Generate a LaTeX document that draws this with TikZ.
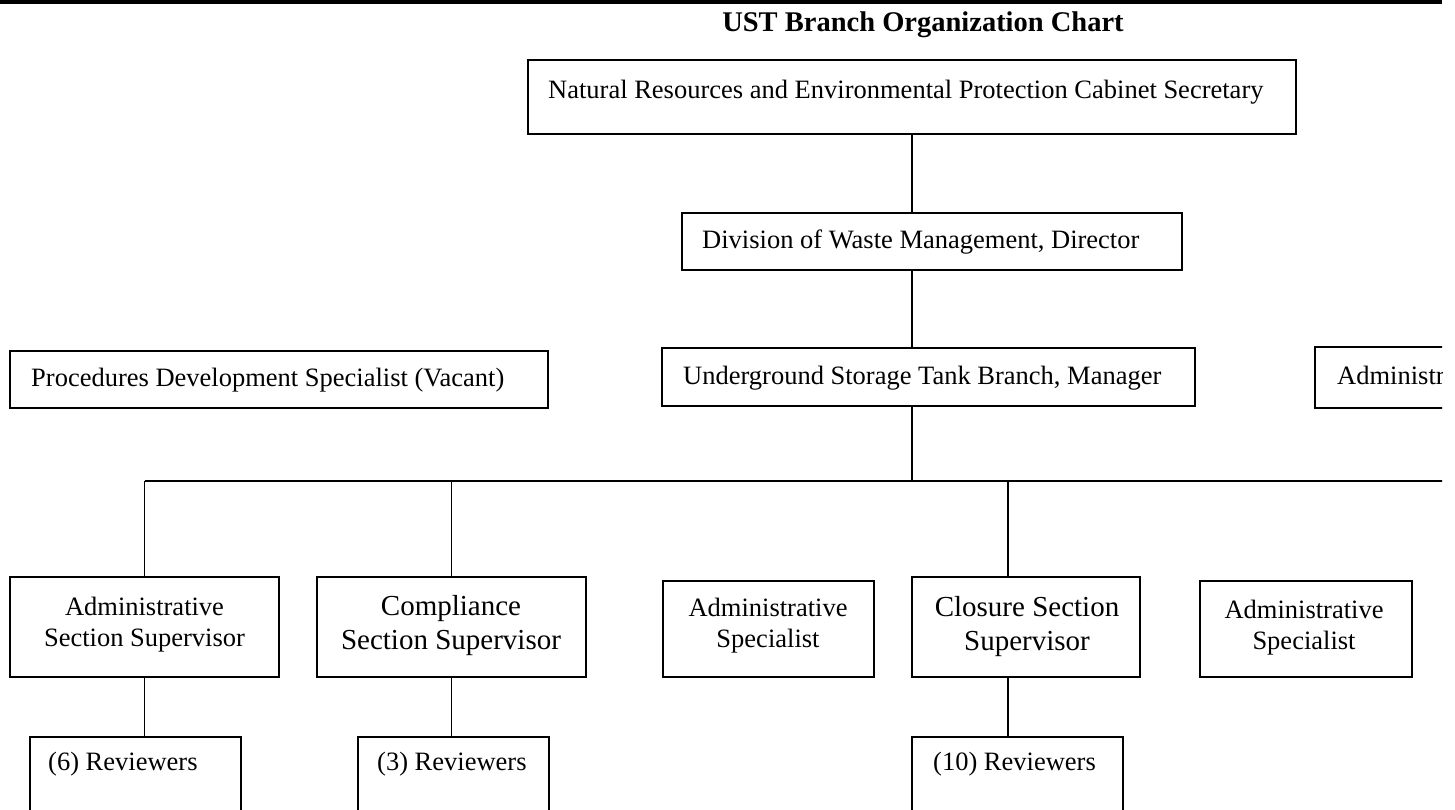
\documentclass[tikz,border=0pt]{standalone}
\usepackage{fontspec}
\setmainfont{Liberation Serif}
\begin{document}
\begin{tikzpicture}[x=1pt,y=-1pt,
  box/.style={draw,line width=1.6pt,inner sep=0pt},
  conn/.style={line width=1.6pt},
  txt/.style={inner sep=0pt,font=\fontsize{26.5}{31}\selectfont},
  bigtxt/.style={inner sep=0pt,align=center,font=\fontsize{29}{34}\selectfont},
  midtxt/.style={inner sep=0pt,align=center,font=\fontsize{26.5}{31}\selectfont},
  titletxt/.style={inner sep=0pt,font=\fontsize{28.5}{32}\selectfont\bfseries}]
\useasboundingbox (0,0) rectangle (1455,810);
\begin{scope}
\clip (0,0) rectangle (1442,810);
% top rule
\coordinate (ruleL) at (0,2);
\coordinate (ruleR) at (1442,2);
\draw[line width=3.5pt] (ruleL) -- (ruleR);
\node[titletxt] (title) at (923,25) {UST Branch Organization Chart};
% boxes
\node[box,minimum width=768pt,minimum height=74pt] (sec) at (912,97) {};
\node[box,minimum width=500pt,minimum height=57pt] (dir) at (932,241.5) {};
\node[box,minimum width=533pt,minimum height=58pt] (mgr) at (928.5,377) {};
\node[box,minimum width=538pt,minimum height=57pt] (pds) at (279,379.5) {};
\node[box,minimum width=185pt,minimum height=61pt] (adm) at (1407.5,377.5) {};
\node[box,minimum width=269pt,minimum height=100pt] (ass) at (144.5,627) {};
\node[box,minimum width=269pt,minimum height=100pt] (css) at (451.5,627) {};
\node[box,minimum width=211pt,minimum height=96pt] (as1) at (768.5,629) {};
\node[box,minimum width=228pt,minimum height=100pt] (cls) at (1026,627) {};
\node[box,minimum width=212pt,minimum height=96pt] (as2) at (1306,629) {};
\node[box,minimum width=211pt,minimum height=93pt] (rv1) at (135.5,783.5) {};
\node[box,minimum width=191pt,minimum height=93pt] (rv2) at (453.5,783.5) {};
\node[box,minimum width=211pt,minimum height=93pt] (rv3) at (1017.5,783.5) {};
% texts
\node[txt,anchor=west] (tsec) at (548,92) {Natural Resources and Environmental Protection Cabinet Secretary};
\node[txt,anchor=west] (tdir) at (702,242) {Division of Waste Management, Director};
\node[txt,anchor=west] (tmgr) at (683,378) {Underground Storage Tank Branch, Manager};
\node[txt,anchor=west] (tpds) at (31,380) {Procedures Development Specialist (Vacant)};
\node[txt,anchor=west] (tadm) at (1337,378) {Administrative Specialist};
\node[midtxt] (tass) at (144.5,625) {Administrative\\Section Supervisor};
\node[bigtxt] (tcss) at (451,626) {Compliance\\Section Supervisor};
\node[midtxt] (tas1) at (768,625.5) {Administrative\\Specialist};
\node[bigtxt] (tcls) at (1027,626.5) {Closure Section\\Supervisor};
\node[midtxt] (tas2) at (1304,627.5) {Administrative\\Specialist};
\node[txt,anchor=west] (trv1) at (48,764) {(6) Reviewers};
\node[txt,anchor=west] (trv2) at (377,764) {(3) Reviewers};
\node[txt,anchor=west] (trv3) at (933,764) {(10) Reviewers};
% connectors
\coordinate (busL) at (144.5,481);
\coordinate (busM) at (912,481);
\coordinate (busR) at (1460,481);
\coordinate (dropD) at (1008,481);
\draw[conn] (sec.south) -- (sec.south |- dir.north);
\draw[conn] (sec.south |- dir.south) -- (sec.south |- mgr.north);
\draw[conn] (sec.south |- mgr.south) -- (busM);
\draw[conn] (busL) -- (busR);
\draw[conn] (busL) -- (ass.north);
\draw[conn] (busL -| css.north) -- (css.north);
\draw[conn] (dropD) -- (dropD |- cls.north);
\draw[conn] (ass.south) -- (ass.south |- rv1.north);
\draw[conn] (css.south) -- (css.south |- rv2.north);
\draw[conn] (dropD |- cls.south) -- (dropD |- rv3.north);
\end{scope}
\end{tikzpicture}
\end{document}
